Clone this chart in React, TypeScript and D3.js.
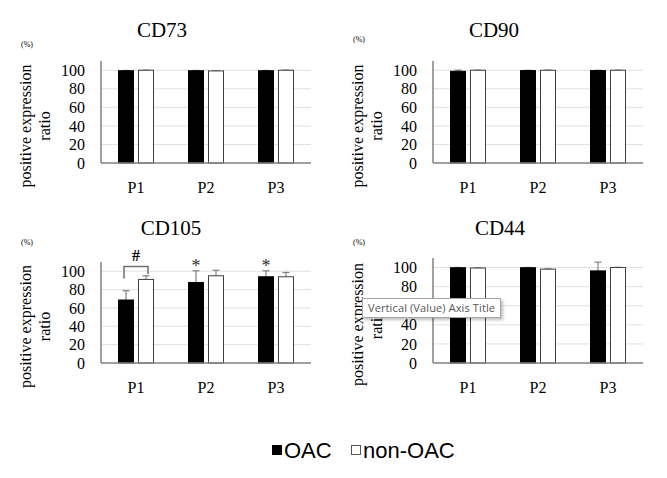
import React from "react";
import * as d3 from "d3";

// categories and series
const passages = ["P1", "P2", "P3"];
const groups = ["OAC", "non-OAC"];
const markers = ["CD73", "CD90", "CD105", "CD44"];
const yTicks = [0, 20, 40, 60, 80, 100];

// mean values (%) per marker, per passage
const oacMean = [
  [99.5, 99.5, 99.5],
  [98.9, 99.7, 99.7],
  [68.6, 87.7, 93.9],
  [99.8, 99.8, 96.5],
];
const nonOacMean = [
  [100, 99.3, 100],
  [100, 100, 100],
  [91, 95, 93.9],
  [99.5, 98.3, 100],
];
// upper error (SD)
const oacErr = [
  [0.3, 0.3, 0.3],
  [1.2, 0.3, 0.3],
  [10.1, 12.7, 6.5],
  [0.3, 0.3, 9.1],
];
const nonOacErr = [
  [0.2, 0.3, 0.2],
  [0.2, 0.2, 0.2],
  [4, 6, 4.7],
  [0.3, 0.3, 0.3],
];

// panel layout
const panels = [
  { left: 101, right: 311, base: 163, top: 61, titleX: 162, titleY: 37, pctY: 47 },
  { left: 433, right: 643, base: 163, top: 61, titleX: 494, titleY: 37, pctY: 42 },
  { left: 101, right: 311, base: 363, top: 262, titleX: 171, titleY: 235, pctY: 245 },
  { left: 433, right: 643, base: 363, top: 258, titleX: 500, titleY: 235, pctY: 245 },
];

const serif = "'Liberation Serif', 'Times New Roman', serif";

const Panel = ({ i }: { i: number }) => {
  const p = panels[i];
  const x = d3
    .scaleBand<string>()
    .domain(passages)
    .range([p.left, p.right])
    .paddingInner(0.5)
    .paddingOuter(0.25);
  const xs = d3
    .scaleBand<string>()
    .domain(groups)
    .range([0, x.bandwidth()])
    .paddingInner(0.25);
  const y = d3.scaleLinear().domain([0, 110]).range([p.base, p.top]);
  const series = [
    { g: groups[0], mean: oacMean[i], err: oacErr[i], fill: "#000", stroke: "#000" },
    { g: groups[1], mean: nonOacMean[i], err: nonOacErr[i], fill: "#fff", stroke: "#404040" },
  ];
  const midY = (p.base + p.top) / 2 + 14;

  return (
    <g>
      <text x={p.titleX} y={p.titleY} textAnchor="middle" fontFamily={serif} fontSize={21}>
        {markers[i]}
      </text>
      <text x={p.left - 74} y={p.pctY} textAnchor="middle" fontFamily={serif} fontSize={8}>
        (%)
      </text>
      <g transform={`translate(${p.left - 70},${midY}) rotate(-90)`} fontFamily={serif} fontSize={16} textAnchor="middle">
        <text x={0} y={0}>positive expression</text>
        <text x={0} y={19}>ratio</text>
      </g>
      {yTicks.map((t) => (
        <g key={t}>
          {t > 0 && (
            <line x1={p.left} x2={p.right} y1={y(t)} y2={y(t)} stroke="#e0e0e0" strokeWidth={1} />
          )}
          <text x={p.left - 16} y={y(t)} dy="0.35em" textAnchor="end" fontFamily={serif} fontSize={16}>
            {t}
          </text>
        </g>
      ))}
      {series.map((s) =>
        passages.map((c, j) => {
          const bx = (x(c) as number) + (xs(s.g) as number);
          const cx = bx + xs.bandwidth() / 2;
          return (
            <g key={s.g + c}>
              <line x1={cx} x2={cx} y1={y(s.mean[j])} y2={y(s.mean[j] + s.err[j])} stroke="#808080" strokeWidth={1.2} />
              <line x1={cx - 3.5} x2={cx + 3.5} y1={y(s.mean[j] + s.err[j])} y2={y(s.mean[j] + s.err[j])} stroke="#808080" strokeWidth={1.2} />
              <rect
                x={bx}
                y={y(s.mean[j])}
                width={xs.bandwidth()}
                height={p.base - y(s.mean[j])}
                fill={s.fill}
                stroke={s.stroke}
                strokeWidth={1}
              />
            </g>
          );
        })
      )}
      <line x1={p.left} x2={p.left} y1={p.top} y2={p.base} stroke="#808080" strokeWidth={1.5} />
      <line x1={p.left} x2={p.right} y1={p.base} y2={p.base} stroke="#808080" strokeWidth={1.5} />
      {passages.map((c) => (
        <text
          key={c}
          x={(x(c) as number) + x.bandwidth() / 2}
          y={p.base + 30}
          textAnchor="middle"
          fontFamily={serif}
          fontSize={16}
        >
          {c}
        </text>
      ))}
      {i === 2 && (
        <g>
          {(() => {
            const lx = (x("P1") as number) + (xs("OAC") as number) + xs.bandwidth() / 2 - 2;
            const rx = (x("P1") as number) + (xs("non-OAC") as number) + xs.bandwidth() / 2 + 2;
            return (
              <g>
                <path
                  d={`M${lx},${y(92)}V${y(105)}H${rx}V${y(97)}`}
                  fill="none"
                  stroke="#707070"
                  strokeWidth={1.5}
                />
                <text x={(lx + rx) / 2} y={y(117)} dy="0.35em" textAnchor="middle" fontFamily={serif} fontSize={16} fontWeight="bold">
                  #
                </text>
              </g>
            );
          })()}
          {["P2", "P3"].map((c) => (
            <text
              key={c}
              x={(x(c) as number) + (xs("OAC") as number) + xs.bandwidth() / 2}
              y={y(99.5)}
              textAnchor="middle"
              fontFamily={serif}
              fontSize={18}
              fill="#333"
            >
              *
            </text>
          ))}
        </g>
      )}
    </g>
  );
};

export default function App() {
  return (
    <svg
      width={667}
      height={478}
      viewBox="0 0 667 478"
      style={{ position: "absolute", left: 0, top: 0, background: "#fff" }}
    >
      <defs>
        <filter id="shadow" x="-10%" y="-30%" width="130%" height="180%">
          <feDropShadow dx={2} dy={2} stdDeviation={1.5} floodColor="#000" floodOpacity={0.25} />
        </filter>
      </defs>
      <rect width={667} height={478} fill="#fff" />
      {markers.map((m, i) => (
        <Panel key={m} i={i} />
      ))}

      {/* legend */}
      <g fontFamily="'Liberation Sans', Arial, sans-serif" fontSize={22}>
        <rect x={272} y={445} width={10} height={10} fill="#000" />
        <text x={284} y={458}>{groups[0]}</text>
        <rect x={351.5} y={445.5} width={9} height={9} fill="#fff" stroke="#555" strokeWidth={1} />
        <text x={363} y={458}>{groups[1]}</text>
      </g>

      {/* tooltip left over from the spreadsheet */}
      <g>
        <rect x={362.5} y={298.5} width={138} height={19} fill="#fff" stroke="#a6a6a6" strokeWidth={1} filter="url(#shadow)" />
        <text x={368} y={312} fontFamily="'Open Sans', 'Noto Sans', sans-serif" fontSize={11} fill="#575757" textLength={127}>
          Vertical (Value) Axis Title
        </text>
      </g>
    </svg>
  );
}
